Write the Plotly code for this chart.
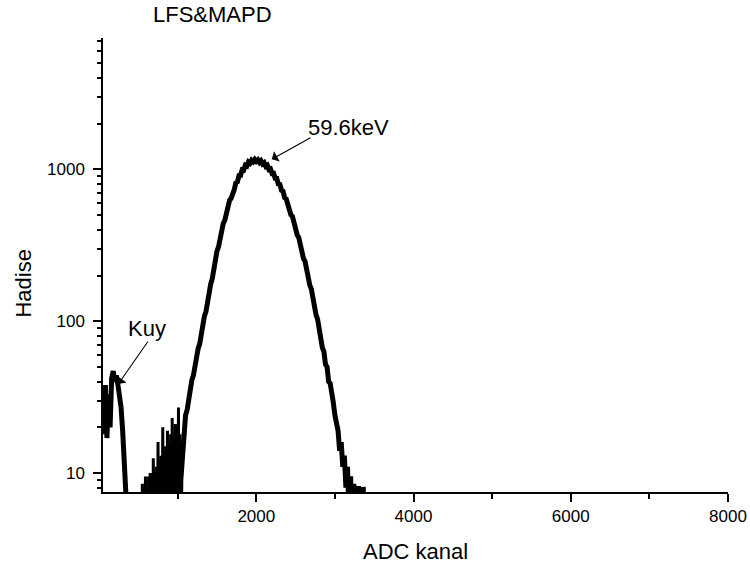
import plotly.graph_objects as go

# ADC channels (bin every 20 channels) for the main spectrum
channels = list(range(40, 3420, 20))

# Counts
kuy_counts = [35, 18, 38, 17, 33, 20, 42, 47, 40, 44, 38, 32, 27, 19, 12, 7.5]        # 40..340
gap_counts = [1] * 34                                                                   # 360..1020
peak_counts = [9, 14, 17, 24, 26, 31, 34, 41, 44, 52,
               56, 66, 71, 85, 92, 108, 116, 137, 147, 176,
               191, 227, 245, 290, 310, 361, 383, 442, 464, 531,
               552, 625, 645, 722, 738, 819, 829, 912, 914, 996,
               990, 1065, 1052, 1118, 1098, 1150, 1125, 1165, 1130, 1155,
               1112, 1140, 1088, 1108, 1050, 1066, 1000, 1010, 942, 945,
               875, 874, 803, 797, 728, 719, 652, 641, 577, 564,
               503, 490, 434, 421, 370, 356, 312, 299, 259, 248,
               213, 202, 173, 163, 138, 130, 110, 103, 85, 80,
               67, 63, 52, 50, 40, 39, 31, 29, 24, 22,
               19, 14, 16, 11, 13, 8, 11, 5, 9.5, 3,
               8.5, 1, 1, 8.2, 1, 1, 8.1, 1, 1]                                        # 1040..3400

counts = kuy_counts + gap_counts + peak_counts
assert len(counts) == len(channels), (len(counts), len(channels))

# Noisy low-count region left of the main peak (every 10 channels)
low_channels = list(range(540, 1040, 10))
low_counts = [1, 8.5, 1, 7.8, 1, 9.5, 1, 8, 1, 9.5,
              1, 10, 1, 9, 1, 12.5, 1, 10, 1, 11,
              1, 16, 1, 12, 1, 13, 1, 20, 1, 14,
              1, 15, 1, 19, 1, 16, 1, 18, 1, 23,
              1, 17, 1, 21, 1, 20, 1, 27, 1, 18]
assert len(low_counts) == len(low_channels), (len(low_counts), len(low_channels))

x_ticks = [2000, 4000, 6000, 8000]
x_minor = [1000, 3000, 5000, 7000]
y_ticks = [10, 100, 1000]
y_ticktext = ["10", "100", "1000"]
y_minor = [8, 9, 20, 30, 40, 50, 60, 70, 80, 90,
           200, 300, 400, 500, 600, 700, 800, 900,
           2000, 3000, 4000, 5000, 6000, 7000]

FONT = "Liberation Sans, Arial, sans-serif"

fig = go.Figure()
fig.add_trace(go.Scatter(x=low_channels, y=low_counts, mode="lines",
                         line=dict(color="black", width=3),
                         showlegend=False, hoverinfo="skip"))
fig.add_trace(go.Scatter(x=channels, y=counts, mode="lines",
                         line=dict(color="black", width=5),
                         showlegend=False, hoverinfo="skip"))

L, R, T, B = 103, 22, 38, 72
W, H = 750, 564
pw, ph = W - L - R, H - T - B

def px(xp):
    return (xp - L) / pw

def py(yp):
    return (H - B - yp) / ph

fig.update_layout(
    width=W, height=H,
    margin=dict(l=L, r=R, t=T, b=B, pad=0, autoexpand=False),
    paper_bgcolor="white", plot_bgcolor="white",
    font=dict(family=FONT, color="black"),
    xaxis=dict(range=[50, 8000], showgrid=False, zeroline=False, automargin=False,
               showline=True, linecolor="black", linewidth=1.5,
               ticks="outside", ticklen=8, tickwidth=1.5, tickcolor="black",
               tickvals=x_ticks, ticktext=[str(v) for v in x_ticks],
               tickfont=dict(size=17, family=FONT),
               minor=dict(tickvals=x_minor, ticks="outside", ticklen=5,
                          tickwidth=1.5, tickcolor="black", showgrid=False)),
    yaxis=dict(type="log", range=[0.875, 3.866], showgrid=False, zeroline=False,
               automargin=False,
               showline=True, linecolor="black", linewidth=1.5,
               ticks="outside", ticklen=8, tickwidth=1.5, tickcolor="black",
               tickvals=y_ticks, ticktext=y_ticktext, ticklabelstandoff=5,
               tickfont=dict(size=17, family=FONT),
               minor=dict(tickvals=y_minor, ticks="outside", ticklen=4,
                          tickwidth=1.5, tickcolor="black", showgrid=False)),
)

ann = [
    dict(text="LFS&MAPD", x=px(212.7), y=py(15), xref="paper", yref="paper",
         showarrow=False, xanchor="center", yanchor="middle", font=dict(size=22)),
    dict(text="Hadise", x=px(23.3), y=py(283.3), xref="paper", yref="paper",
         showarrow=False, xanchor="center", yanchor="middle", textangle=-90,
         font=dict(size=22)),
    dict(text="ADC kanal", x=px(415.8), y=py(551.7), xref="paper", yref="paper",
         showarrow=False, xanchor="center", yanchor="middle", font=dict(size=22)),
    dict(text="59.6keV", x=px(348), y=py(127.5), xref="paper", yref="paper",
         showarrow=False, xanchor="center", yanchor="middle", font=dict(size=22)),
    dict(text="Kuy", x=px(146.7), y=py(328.3), xref="paper", yref="paper",
         showarrow=False, xanchor="center", yanchor="middle", font=dict(size=22)),
    # arrows
    dict(text="", x=px(271.7), y=py(159.3), xref="paper", yref="paper",
         showarrow=True, ax=40.3, ay=-22.3, axref="pixel", ayref="pixel",
         arrowhead=1, arrowsize=1.8, arrowwidth=1.1, arrowcolor="black"),
    dict(text="", x=px(118.3), y=py(384), xref="paper", yref="paper",
         showarrow=True, ax=30.7, ay=-44, axref="pixel", ayref="pixel",
         arrowhead=1, arrowsize=1.8, arrowwidth=1.1, arrowcolor="black"),
]
fig.update_layout(annotations=ann)

fig.write_html("out.html")
